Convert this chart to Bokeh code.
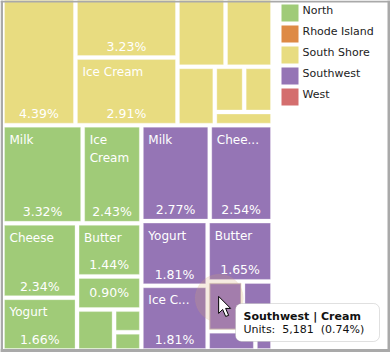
from bokeh.plotting import figure
from bokeh.models import BoxAnnotation
from bokeh.core.properties import value
from bokeh.embed import file_html
from bokeh.resources import INLINE

# ---- data -------------------------------------------------------------
legend_names = ["North", "Rhode Island", "South Shore", "Southwest", "West"]
legend_colors = ["#A0CB78", "#DE8A45", "#E8DC80", "#9575B5", "#D46E6E"]

south_shore_names = ["", "", "Ice Cream", "", "", "", "", "", ""]
south_shore_values = [4.39, 3.23, 2.91, 1.71, 1.67, 0.92, 0.56, 0.54, 0.32]
south_shore_shown = [True, True, True, False, False, False, False, False, False]

north_names = ["Milk", "Ice\nCream", "Cheese", "Yogurt", "Butter", "", "", "", ""]
north_values = [3.32, 2.43, 2.34, 1.66, 1.44, 0.90, 0.64, 0.26, 0.21]
north_shown = [True, True, True, True, True, True, False, False, False]

southwest_names = ["Milk", "Chee...", "Yogurt", "Ice C...", "Butter", "", "", "", ""]
southwest_values = [2.77, 2.54, 1.81, 1.81, 1.65, 0.74, 0.62, 0.39, 0.14]
southwest_shown = [True, True, True, True, True, False, False, False, False]

tooltip_title = "Southwest | Cream"
tooltip_units = "Units:\u00a0 5,181\u00a0 (0.74%)"

# ---- treemap layout from the values ------------------------------------
# a node is a leaf index or (direction, children); "h" = side by side, "v" = stacked
ss_tree = ("h", [0, ("v", [1, 2]), ("v", [("h", [3, 4]), ("h", [5, ("v", [("h", [6, 7]), 8])])])])
n_tree = ("v", [("h", [0, 1]), ("h", [("v", [2, 3]), ("v", [4, 5, ("h", [6, ("v", [7, 8])])])])])
sw_tree = ("v", [("h", [0, 1]), ("h", [("v", [2, 3]), ("v", [4, ("h", [5, 6]), ("h", [7, 8])])])])


def total(node, vals):
    return vals[node] if isinstance(node, int) else sum(total(c, vals) for c in node[1])


def place(node, vals, x0, y0, x1, y1, out):
    if isinstance(node, int):
        out[node] = (x0, y0, x1, y1)
        return
    t = total(node, vals)
    pos = x0 if node[0] == "h" else y0
    for c in node[1]:
        share = total(c, vals) / t
        if node[0] == "h":
            nxt = pos + (x1 - x0) * share
            place(c, vals, pos, y0, nxt, y1, out)
        else:
            nxt = pos + (y1 - y0) * share
            place(c, vals, x0, pos, x1, nxt, out)
        pos = nxt


OX0, OY0, OX1, OY1 = 2, -18, 272, 350
ss_sum, n_sum, sw_sum = sum(south_shore_values), sum(north_values), sum(southwest_values)
split_y = OY0 + (OY1 - OY0) * ss_sum / (ss_sum + n_sum + sw_sum)
split_x = OX0 + (OX1 - OX0) * n_sum / (n_sum + sw_sum)

ss_r, n_r, sw_r = {}, {}, {}
place(ss_tree, south_shore_values, OX0, OY0, OX1, split_y, ss_r)
place(n_tree, north_values, OX0, split_y, split_x, OY1, n_r)
place(sw_tree, southwest_values, split_x, split_y, OX1, OY1, sw_r)

p = figure(width=390, height=352, x_range=(0, 390), y_range=(352, 0),
           output_backend="svg", toolbar_location=None, min_border=0,
           x_axis_type=None, y_axis_type=None, outline_line_color=None,
           background_fill_color="white", border_fill_color="white")
p.grid.visible = False

INSET = 2
FONT = value("DejaVu Sans")


def draw_region(rects, names, vals, shown, color):
    l, r, t, b = [], [], [], []
    tx, ty, ts, px, py, ps = [], [], [], [], [], []
    for i in range(len(vals)):
        x0, y0, x1, y1 = rects[i]
        x0, y0, x1, y1 = x0 + INSET, y0 + INSET, x1 - INSET, y1 - INSET
        l.append(x0); r.append(x1); t.append(y0); b.append(y1)
        if names[i]:
            for k, part in enumerate(names[i].split("\n")):
                tx.append(x0 + 5)
                ty.append(y0 + 12.5 + 18 * k)
                ts.append(part)
        if shown[i]:
            px.append((x0 + x1) / 2)
            py.append((y0 + y1) / 2 if y1 - y0 < 32 else y1 - 9.5)
            ps.append(f"{vals[i]:.2f}%")
    p.quad(left=l, right=r, top=t, bottom=b, fill_color=color, line_color="white",
           line_alpha=0.3, line_width=1)
    p.text(x=tx, y=ty, text=ts, text_color="white", text_font=FONT, text_font_size="12px",
           text_align="left", text_baseline="middle")
    p.text(x=px, y=py, text=ps, text_color="white", text_font=FONT, text_font_size="12.5px",
           text_align="center", text_baseline="middle")


draw_region(ss_r, south_shore_names, south_shore_values, south_shore_shown, legend_colors[2])
draw_region(n_r, north_names, north_values, north_shown, legend_colors[0])
draw_region(sw_r, southwest_names, southwest_values, southwest_shown, legend_colors[3])

# hovered Cream cell with its glow
cx0, cy0, cx1, cy1 = sw_r[5]
p.scatter(x=[(cx0 + cx1) / 2 - 6], y=[(cy0 + cy1) / 2 - 8], size=48, marker="circle",
          fill_color="#D8A878", fill_alpha=0.22, line_color="#D8A878", line_alpha=0.12)
p.quad(left=[cx0 + INSET], right=[cx1 - INSET], top=[cy0 + INSET], bottom=[cy1 - INSET],
       fill_color="#A37DAC", line_color="#E8DDB0", line_alpha=0.45, line_width=1.5)

# legend
for i, (name, col) in enumerate(zip(legend_names, legend_colors)):
    y = 4 + 21 * i
    p.quad(left=[281], right=[298], top=[y], bottom=[y + 17], fill_color=col, line_color=None)
    p.text(x=[302], y=[y + 6], text=[name], text_color="#222222", text_font=FONT,
           text_font_size="11px", text_align="left", text_baseline="middle")

# cursor
tip_x, tip_y = cx0 + 11, cy0 + 15
p.patch(x=[tip_x + d for d in (0, 0, 4, 7, 10, 7, 12)],
        y=[tip_y + d for d in (0, 17, 13, 20, 19, 12, 12)],
        fill_color="white", line_color="black", line_width=1)

# tooltip
p.add_layout(BoxAnnotation(left=235, right=379, top=303, bottom=341, fill_color="white",
                           fill_alpha=1, line_color="#999999", line_width=1, border_radius=6))
p.text(x=[243], y=[316], text=[tooltip_title], text_color="#111111", text_font=FONT,
       text_font_size="11px", text_font_style="bold", text_align="left",
       text_baseline="middle", level="overlay")
p.text(x=[243], y=[329], text=[tooltip_units], text_color="#111111", text_font=FONT,
       text_font_size="11px", text_align="left", text_baseline="middle", level="overlay")

# frame of the picture
FRAME = "#A9A9A9"
p.quad(left=[0, 0, 0, 387], right=[390, 2.5, 390, 390], top=[0, 0, 348.5, 0], bottom=[2, 352, 352, 352],
       fill_color=FRAME, line_color=None)

open("out.html", "w").write(file_html(p, INLINE))
